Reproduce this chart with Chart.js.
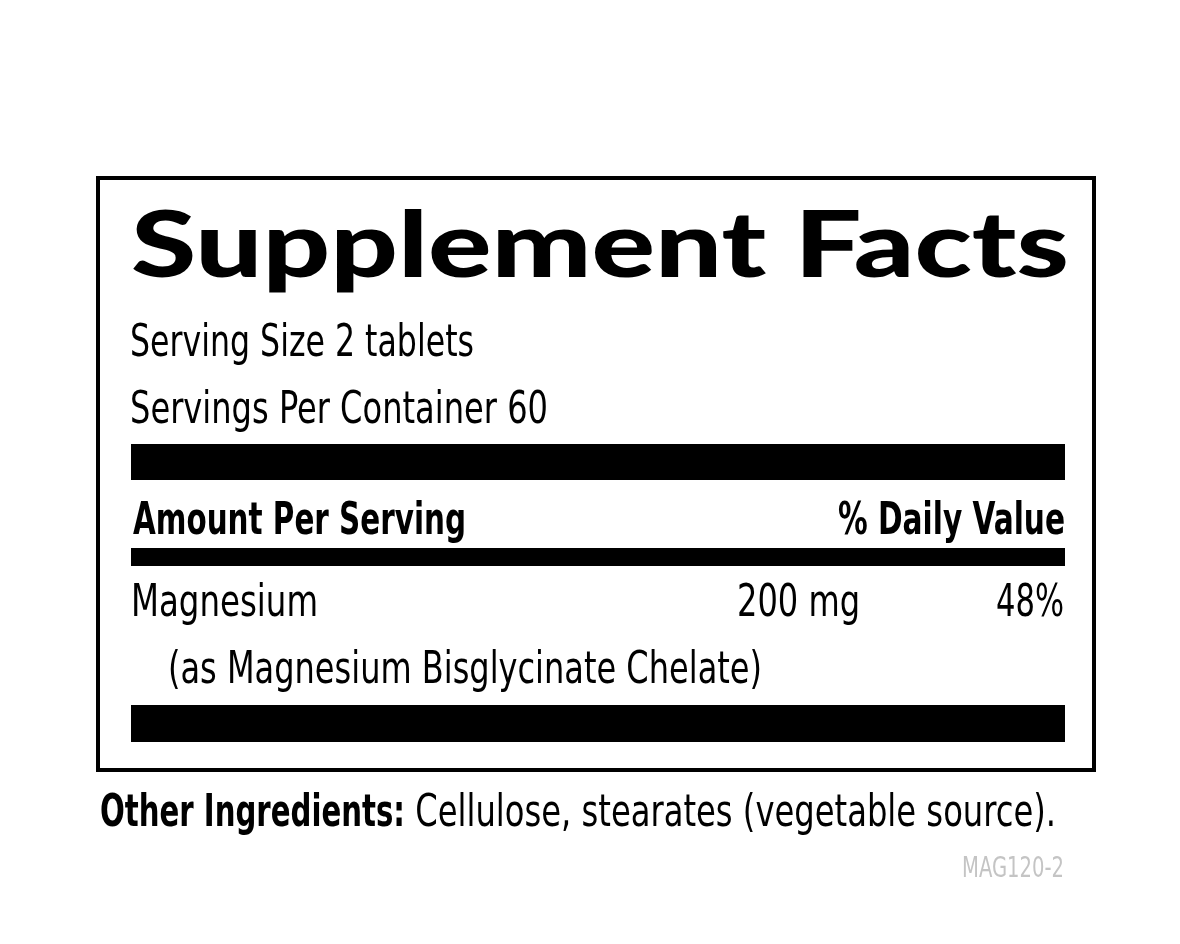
<!DOCTYPE html>
<html>
<head>
<meta charset="utf-8">
<script src="https://cdn.jsdelivr.net/npm/chart.js@4"></script>
<style>
  body { margin: 0; background: #fff; }
  canvas { display: block; }
</style>
</head>
<body>
<canvas id="label" width="1180" height="944"></canvas>
<script>
// label contents
const title = "Supplement Facts";
const servingLines = ["Serving Size 2 tablets", "Servings Per Container 60"];
const headers = ["Amount Per Serving", "% Daily Value"];
const nutrients = ["Magnesium"];
const amounts = ["200 mg"];
const dailyValues = ["48%"];
const sources = ["(as Magnesium Bisglycinate Chelate)"];
const otherLabel = "Other Ingredients:";
const otherText = " Cellulose, stearates (vegetable source).";
const code = "MAG120-2";

const COND = "'DejaVu Sans Condensed', 'DejaVu Sans', sans-serif";

// draw text squeezed/stretched to a target width
function fitText(ctx, txt, x, y, w, font, color) {
  ctx.save();
  ctx.font = font;
  ctx.fillStyle = color || "#000";
  ctx.textBaseline = "alphabetic";
  const m = ctx.measureText(txt).width;
  ctx.translate(x, y);
  ctx.scale(w / m, 1);
  ctx.fillText(txt, 0, 0);
  ctx.restore();
}

const labelPlugin = {
  id: "labelPlugin",
  afterDraw(chart) {
    const ctx = chart.ctx;
    const sx = chart.scales.x, sy = chart.scales.y;
    const X = (v) => sx.getPixelForValue(v);
    const Y = (v) => sy.getPixelForValue(v);
    const rect = (x0, y0, x1, y1) => ctx.fillRect(X(x0), Y(y0), X(x1) - X(x0), Y(y1) - Y(y0));

    ctx.save();
    ctx.fillStyle = "#000";
    ctx.strokeStyle = "#000";
    ctx.lineWidth = 4;
    ctx.strokeRect(X(98), Y(178), X(1094) - X(98), Y(770) - Y(178));

    fitText(ctx, title, X(131), Y(277), 938, "900 92px Lato, 'DejaVu Sans', sans-serif");

    fitText(ctx, servingLines[0], X(130), Y(356), 344, "44px " + COND);
    fitText(ctx, servingLines[1], X(130), Y(423), 418, "44px " + COND);

    rect(131, 444, 1065, 480);

    fitText(ctx, headers[0], X(133), Y(534), 333, "bold 44px " + COND);
    fitText(ctx, headers[1], X(838), Y(534), 227, "bold 44px " + COND);

    rect(131, 548, 1065, 566);

    fitText(ctx, nutrients[0], X(131), Y(616), 187, "44px " + COND);
    fitText(ctx, amounts[0], X(737), Y(616), 123, "44px " + COND);
    fitText(ctx, dailyValues[0], X(996), Y(616), 68, "44px " + COND);
    fitText(ctx, sources[0], X(168), Y(683), 594, "44px " + COND);

    rect(131, 705, 1065, 742);

    fitText(ctx, otherLabel, X(100), Y(826), 305, "bold 44px " + COND);
    fitText(ctx, otherText, X(405), Y(826), 651, "44px " + COND);

    fitText(ctx, code, X(962), Y(877), 102, "28px " + COND, "#c4c4c4");
    ctx.restore();
  }
};

new Chart(document.getElementById("label"), {
  type: "scatter",
  data: { datasets: [{ data: [], pointRadius: 0 }] },
  options: {
    responsive: false,
    animation: false,
    devicePixelRatio: 1,
    layout: { padding: 0 },
    plugins: { legend: { display: false }, tooltip: { enabled: false } },
    scales: {
      x: { type: "linear", min: 0, max: 1180, display: false },
      y: { type: "linear", min: 0, max: 944, reverse: true, display: false }
    }
  },
  plugins: [labelPlugin]
});
</script>
</body>
</html>
